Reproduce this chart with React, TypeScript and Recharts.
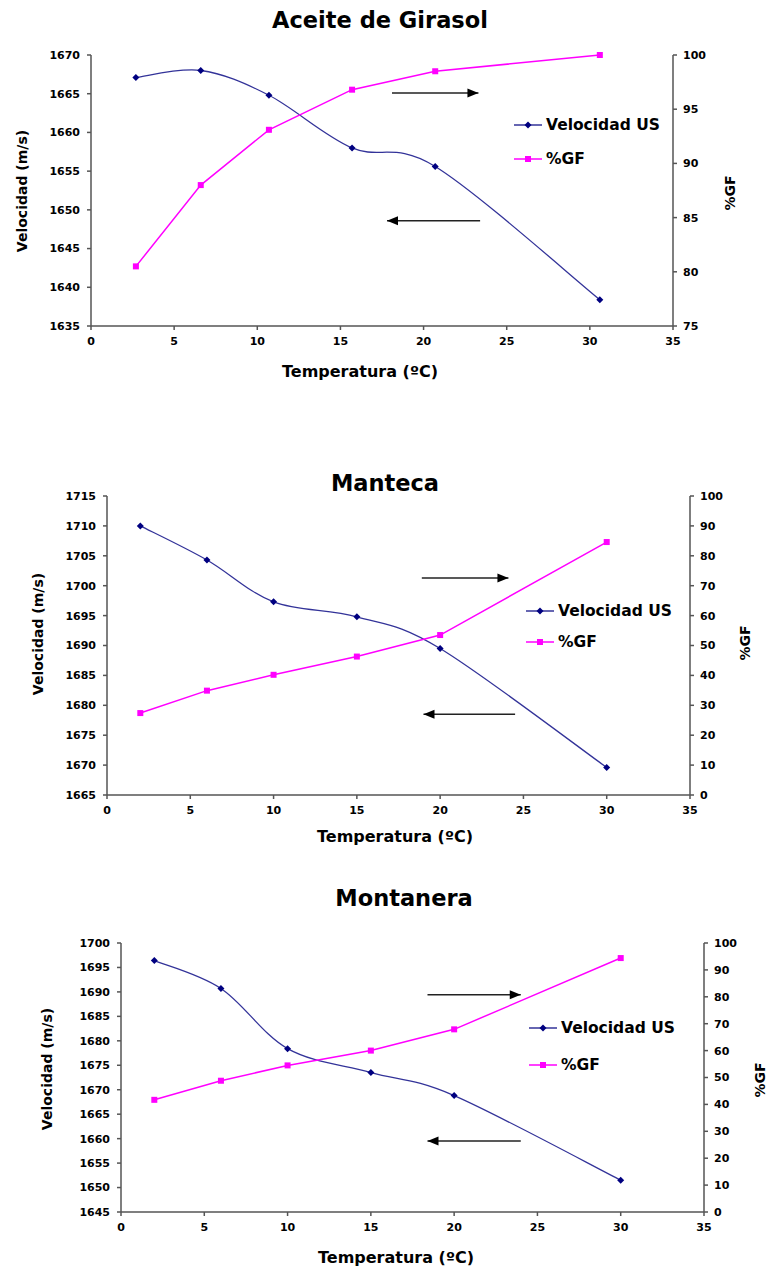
import React from "react";
import {
  LineChart,
  Line,
  XAxis,
  YAxis,
  Legend,
  ReferenceLine,
  ReferenceDot,
} from "recharts";

const FONT = "'DejaVu Sans', Arial, sans-serif";
const VEL_LINE = "#333399";
const VEL_DOT = "#000080";
const GF_COLOR = "#FF00FF";
const AXIS_COLOR = "#555555";

// temperatures (ºC), shared tick set
const tempTicks = [0, 5, 10, 15, 20, 25, 30, 35];

// Aceite de Girasol
const girasolTemp = [2.7, 6.6, 10.7, 15.7, 20.7, 30.6];
const girasolVel = [1667.1, 1668.0, 1664.8, 1658.0, 1655.6, 1638.4];
const girasolGF = [80.5, 88.0, 93.1, 96.8, 98.5, 100];
const girasolVelTicks = [1635, 1640, 1645, 1650, 1655, 1660, 1665, 1670];
const girasolGFTicks = [75, 80, 85, 90, 95, 100];
const girasolArrows = [
  { x1: 18.1, x2: 23.3, y: 1665.1 },
  { x1: 23.4, x2: 17.8, y: 1648.6 },
];

// Manteca
const mantecaTemp = [2, 6, 10, 15, 20, 30];
const mantecaVel = [1710.0, 1704.3, 1697.3, 1694.8, 1689.5, 1669.6];
const mantecaGF = [27.4, 34.9, 40.2, 46.3, 53.5, 84.6];
const mantecaVelTicks = [1665, 1670, 1675, 1680, 1685, 1690, 1695, 1700, 1705, 1710, 1715];
const mantecaGFTicks = [0, 10, 20, 30, 40, 50, 60, 70, 80, 90, 100];
const mantecaArrows = [
  { x1: 18.9, x2: 24.1, y: 1701.3 },
  { x1: 24.5, x2: 19.0, y: 1678.5 },
];

// Montanera
const montaneraTemp = [2, 6, 10, 15, 20, 30];
const montaneraVel = [1696.4, 1690.7, 1678.4, 1673.5, 1668.8, 1651.5];
const montaneraGF = [41.7, 48.8, 54.5, 60.0, 67.9, 94.4];
const montaneraVelTicks = [1645, 1650, 1655, 1660, 1665, 1670, 1675, 1680, 1685, 1690, 1695, 1700];
const montaneraGFTicks = [0, 10, 20, 30, 40, 50, 60, 70, 80, 90, 100];
const montaneraArrows = [
  { x1: 18.4, x2: 24.0, y: 1689.4 },
  { x1: 24.0, x2: 18.4, y: 1659.5 },
];

const panels = [
  {
    title: "Aceite de Girasol",
    temp: girasolTemp,
    vel: girasolVel,
    gf: girasolGF,
    velTicks: girasolVelTicks,
    gfTicks: girasolGFTicks,
    arrows: girasolArrows,
    top: 0,
    height: 400,
    margin: { top: 55, right: 49, bottom: 44, left: 31 },
    titlePos: [380, 20],
    xTitlePos: [360, 372],
    yTitlePos: [22, 191],
    rTitlePos: [730, 193],
    legend: { left: 514, top: 108, row: 34 },
  },
  {
    title: "Manteca",
    temp: mantecaTemp,
    vel: mantecaVel,
    gf: mantecaGF,
    velTicks: mantecaVelTicks,
    gfTicks: mantecaGFTicks,
    arrows: mantecaArrows,
    top: 420,
    height: 420,
    margin: { top: 76, right: 32, bottom: 15, left: 47 },
    titlePos: [385, 483],
    xTitlePos: [395, 837],
    yTitlePos: [38, 634],
    rTitlePos: [745, 643],
    legend: { left: 526, top: 595, row: 31 },
  },
  {
    title: "Montanera",
    temp: montaneraTemp,
    vel: montaneraVel,
    gf: montaneraGF,
    velTicks: montaneraVelTicks,
    gfTicks: montaneraGFTicks,
    arrows: montaneraArrows,
    top: 860,
    height: 410,
    margin: { top: 83, right: 18, bottom: 28, left: 61 },
    titlePos: [404, 898],
    xTitlePos: [396, 1258],
    yTitlePos: [47, 1069],
    rTitlePos: [760, 1080],
    legend: { left: 529, top: 1009, row: 37 },
  },
];

const tickStyle = { fontFamily: FONT, fontWeight: 700, fontSize: 11, fill: "#000" };

// Excel-like smoothed line (uniform Catmull-Rom through the points)
function catmullRom(context: any) {
  let pts: number[][] = [];
  return {
    areaStart() {},
    areaEnd() {},
    lineStart() {
      pts = [];
    },
    point(x: number, y: number) {
      pts.push([+x, +y]);
    },
    lineEnd() {
      const n = pts.length;
      if (!n) return;
      context.moveTo(pts[0][0], pts[0][1]);
      for (let i = 0; i < n - 1; i++) {
        const p0 = pts[i - 1] || pts[i];
        const p1 = pts[i];
        const p2 = pts[i + 1];
        const p3 = pts[i + 2] || p2;
        context.bezierCurveTo(
          p1[0] + (p2[0] - p0[0]) / 6,
          p1[1] + (p2[1] - p0[1]) / 6,
          p2[0] - (p3[0] - p1[0]) / 6,
          p2[1] - (p3[1] - p1[1]) / 6,
          p2[0],
          p2[1]
        );
      }
    },
  };
}

function Diamond(props: any) {
  const { cx, cy, index } = props;
  if (cx == null || cy == null) return <g key={index} />;
  return (
    <path
      key={index}
      d={`M${cx},${cy - 3.5}L${cx + 3.5},${cy}L${cx},${cy + 3.5}L${cx - 3.5},${cy}Z`}
      fill={VEL_DOT}
    />
  );
}

function Square(props: any) {
  const { cx, cy, index } = props;
  if (cx == null || cy == null) return <g key={index} />;
  return <rect key={index} x={cx - 3} y={cy - 3} width={6} height={6} fill={GF_COLOR} />;
}

function arrowHead(dir: number) {
  return (p: any) => {
    const { cx, cy } = p;
    const b = cx - dir * 11;
    return <path d={`M${cx},${cy}L${b},${cy - 4.5}L${b},${cy + 4.5}Z`} fill="#000" />;
  };
}

function LegendBox({ row }: { row: number }) {
  const item = (label: string, color: string, marker: React.ReactNode) => (
    <div style={{ display: "flex", alignItems: "center", height: row }}>
      <svg width={28} height={10} style={{ overflow: "visible" }}>
        <line x1={0} y1={5} x2={28} y2={5} stroke={color} strokeWidth={1.5} />
        {marker}
      </svg>
      <span style={{ marginLeft: 4 }}>{label}</span>
    </div>
  );
  return (
    <div
      style={{
        fontFamily: FONT,
        fontWeight: 700,
        fontSize: 15.5,
        color: "#000",
        whiteSpace: "nowrap",
      }}
    >
      {item("Velocidad US", VEL_LINE, <path d="M14,1.5L17.5,5L14,8.5L10.5,5Z" fill={VEL_DOT} />)}
      {item("%GF", GF_COLOR, <rect x={11} y={2} width={6} height={6} fill={GF_COLOR} />)}
    </div>
  );
}

const textBase: React.CSSProperties = {
  position: "absolute",
  fontFamily: FONT,
  fontWeight: 700,
  color: "#000",
  whiteSpace: "nowrap",
  lineHeight: 1,
  pointerEvents: "none",
};

function Panel({ cfg }: { cfg: (typeof panels)[number] }) {
  const data = cfg.temp.map((t, i) => ({ t, vel: cfg.vel[i], gf: cfg.gf[i] }));
  const velDomain = [cfg.velTicks[0], cfg.velTicks[cfg.velTicks.length - 1]];
  const gfDomain = [cfg.gfTicks[0], cfg.gfTicks[cfg.gfTicks.length - 1]];
  return (
    <div style={{ position: "absolute", left: 0, top: cfg.top, width: 772, height: cfg.height }}>
      <LineChart width={772} height={cfg.height} data={data} margin={cfg.margin}>
        <XAxis
          dataKey="t"
          type="number"
          domain={[0, 35]}
          ticks={tempTicks}
          height={30}
          tick={tickStyle}
          tickSize={4}
          tickMargin={7}
          stroke={AXIS_COLOR}
          strokeWidth={1.5}
        />
        <YAxis
          yAxisId="left"
          type="number"
          domain={velDomain}
          ticks={cfg.velTicks}
          width={60}
          tick={tickStyle}
          tickSize={4}
          tickMargin={7}
          stroke={AXIS_COLOR}
          strokeWidth={1.5}
          interval={0}
        />
        <YAxis
          yAxisId="right"
          orientation="right"
          type="number"
          domain={gfDomain}
          ticks={cfg.gfTicks}
          width={50}
          tick={tickStyle}
          tickSize={4}
          tickMargin={6}
          stroke={AXIS_COLOR}
          strokeWidth={1.5}
          interval={0}
        />
        <Legend
          layout="vertical"
          align="center"
          verticalAlign="middle"
          wrapperStyle={{
            left: cfg.legend.left,
            top: cfg.legend.top - cfg.top,
            width: 170,
            height: cfg.legend.row * 2,
          }}
          content={() => <LegendBox row={cfg.legend.row} />}
        />
        {cfg.arrows.map((a, i) => (
          <ReferenceLine
            key={`l${i}`}
            yAxisId="left"
            segment={[
              { x: a.x1, y: a.y },
              { x: a.x2, y: a.y },
            ]}
            stroke="#222"
            strokeWidth={1.5}
          />
        ))}
        {cfg.arrows.map((a, i) => (
          <ReferenceDot
            key={`h${i}`}
            yAxisId="left"
            x={a.x2}
            y={a.y}
            shape={arrowHead(a.x2 > a.x1 ? 1 : -1)}
          />
        ))}
        <Line
          yAxisId="left"
          type={catmullRom as any}
          dataKey="vel"
          name="Velocidad US"
          stroke={VEL_LINE}
          strokeWidth={1.3}
          dot={Diamond}
          activeDot={false}
          isAnimationActive={false}
        />
        <Line
          yAxisId="right"
          type="linear"
          dataKey="gf"
          name="%GF"
          stroke={GF_COLOR}
          strokeWidth={1.5}
          dot={Square}
          activeDot={false}
          isAnimationActive={false}
        />
      </LineChart>
    </div>
  );
}

function Labels({ cfg }: { cfg: (typeof panels)[number] }) {
  return (
    <>
      <div
        style={{
          ...textBase,
          fontSize: 22.5,
          left: cfg.titlePos[0],
          top: cfg.titlePos[1],
          transform: "translate(-50%, -50%)",
        }}
      >
        {cfg.title}
      </div>
      <div
        style={{
          ...textBase,
          fontSize: 16,
          left: cfg.xTitlePos[0],
          top: cfg.xTitlePos[1],
          transform: "translate(-50%, -50%)",
        }}
      >
        Temperatura (ºC)
      </div>
      <div
        style={{
          ...textBase,
          fontSize: 14,
          left: cfg.yTitlePos[0],
          top: cfg.yTitlePos[1],
          transform: "translate(-50%, -50%) rotate(-90deg)",
        }}
      >
        Velocidad (m/s)
      </div>
      <div
        style={{
          ...textBase,
          fontSize: 14,
          left: cfg.rTitlePos[0],
          top: cfg.rTitlePos[1],
          transform: "translate(-50%, -50%) rotate(-90deg)",
        }}
      >
        %GF
      </div>
    </>
  );
}

export default function App() {
  return (
    <div
      style={{
        position: "absolute",
        left: 0,
        top: 0,
        width: 772,
        height: 1270,
        background: "#fff",
        overflow: "hidden",
      }}
    >
      {panels.map((p) => (
        <Panel key={p.title} cfg={p} />
      ))}
      {panels.map((p) => (
        <Labels key={`t-${p.title}`} cfg={p} />
      ))}
    </div>
  );
}
